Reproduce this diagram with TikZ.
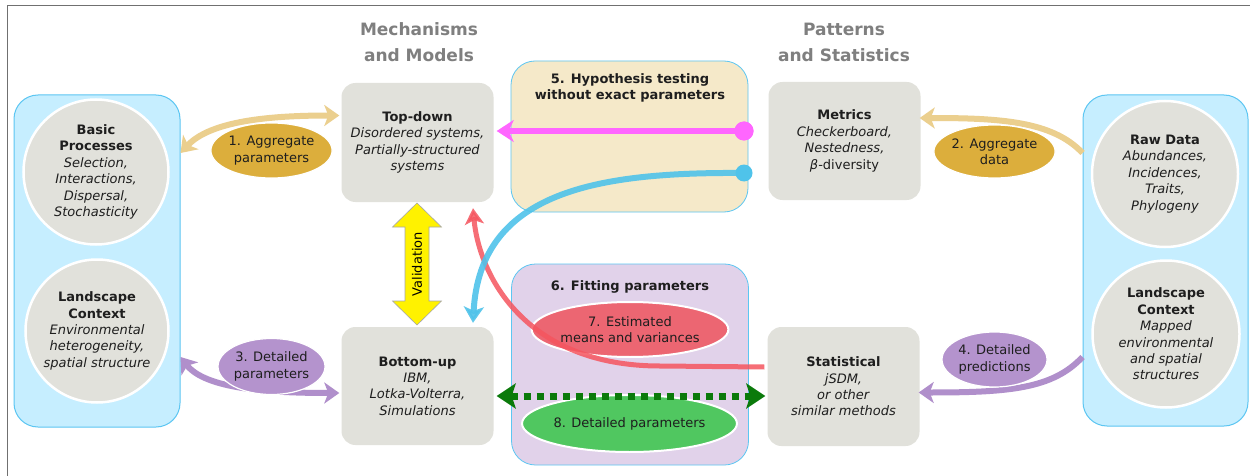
\documentclass[tikz,border=0pt]{standalone}
\usepackage{fontspec}
\setmainfont{DejaVu Sans}
\usetikzlibrary{arrows.meta,shapes.geometric,calc}
\definecolor{panelfill}{HTML}{C6EEFF}
\definecolor{panelline}{HTML}{5CC6F2}
\definecolor{circfill}{HTML}{E1E1DB}
\definecolor{boxfill}{HTML}{E1E1DB}
\definecolor{beige}{HTML}{F5E9C9}
\definecolor{lilac}{HTML}{E1D2EA}
\definecolor{goldlab}{HTML}{DCAE3C}
\definecolor{goldarr}{HTML}{EBCF8E}
\definecolor{purplab}{HTML}{B493CD}
\definecolor{purparr}{HTML}{B08FCB}
\definecolor{redell}{HTML}{EC6672}
\definecolor{redarr}{HTML}{F5555F}
\definecolor{greenell}{HTML}{50C760}
\definecolor{greenarr}{HTML}{0B7A0B}
\definecolor{bluearr}{HTML}{4FC3EA}
\definecolor{magarr}{HTML}{FF66FF}
\definecolor{headgray}{HTML}{7F7F7F}
\definecolor{framegray}{HTML}{707070}
\definecolor{txtc}{HTML}{1E1E1E}
\newcommand{\mytext}{\fontsize{13}{16.4}\selectfont}
\newcommand{\myhead}{\fontsize{17}{26}\selectfont\bfseries}
\begin{document}
\begin{tikzpicture}[x=1pt,y=-1pt,
  panel/.style={draw=panelline,fill=panelfill,line width=1pt,rounded corners=24pt,inner sep=0pt},
  circ/.style={circle,draw=white,line width=2.5pt,fill=circfill,inner sep=0pt,align=center,font=\mytext,text=txtc},
  gbox/.style={fill=boxfill,rounded corners=14pt,inner sep=0pt,align=center,font=\mytext,text=txtc,minimum width=152pt},
  bigbox/.style={draw=panelline,line width=0.8pt,rounded corners=24pt,inner sep=0pt,minimum width=237pt},
  lab/.style={ellipse,draw=white,line width=1.2pt,inner sep=0pt,align=center,font=\mytext,text=txtc},
  head/.style={align=center,font=\myhead,text=headgray},
  conn/.style={line width=6pt,line cap=butt},
  tipA/.style={},
]
\useasboundingbox (0,0) rectangle (1250,476);
\fill[white] (0,0) rectangle (1250,476);
\draw[framegray,line width=1pt] (7,476) -- (7,6) -- (1250,6);

% headings
\node[head] (h1) at (419,42) {Mechanisms\\and Models};
\node[head] (h2) at (844,42) {Patterns\\and Statistics};

% side panels
\node[panel,minimum width=166pt,minimum height=332pt] (lp) at (97,261) {};
\node[panel,minimum width=165pt,minimum height=331pt] (rp) at (1165.5,260.5) {};

\node[circ,minimum size=145pt] (bp) at (96,172) {\textbf{Basic}\\\textbf{Processes}\\\textit{Selection,}\\\textit{Interactions,}\\\textit{Dispersal,}\\\textit{Stochasticity}};
\node[circ,minimum size=143pt] (lcl) at (97,331) {\textbf{Landscape}\\\textbf{Context}\\\textit{Environmental}\\\textit{heterogeneity,}\\\textit{spatial structure}};
\node[circ,minimum size=146pt] (rd) at (1165,174) {\textbf{Raw Data}\\\textit{Abundances,}\\\textit{Incidences,}\\\textit{Traits,}\\\textit{Phylogeny}};
\node[circ,minimum size=147pt] (lcr) at (1166,334) {\textbf{Landscape}\\\textbf{Context}\\\textit{Mapped}\\\textit{environmental}\\\textit{and spatial}\\\textit{structures}};

% gray boxes
\node[gbox,minimum height=119pt] (td) at (417.5,142.5) {\textbf{Top-down}\\\textit{Disordered systems,}\\\textit{Partially-structured}\\\textit{systems}};
\node[gbox,minimum height=118pt] (mt) at (844.5,141) {\textbf{Metrics}\\\textit{Checkerboard,}\\\textit{Nestedness,}\\\textit{β}-diversity};
\node[gbox,minimum height=118pt] (bu) at (417.5,386) {\textbf{Bottom-up}\\\textit{IBM,}\\\textit{Lotka-Volterra,}\\\textit{Simulations}};
\node[gbox,minimum height=119pt] (st) at (843.5,386.5) {\textbf{Statistical}\\\textit{jSDM,}\\\textit{or other}\\\textit{similar methods}};

% big boxes
\node[bigbox,fill=beige,minimum height=151pt] (hyp) at (629.5,136.5) {};
\node[align=center,font=\mytext\bfseries,text=txtc] (hypt) at (630,88) {5. Hypothesis testing\\without exact parameters};
\node[bigbox,fill=lilac,minimum height=201pt] (fit) at (630,364.5) {};
\node[font=\mytext\bfseries,text=txtc] (fitt) at (630,287) {6. Fitting parameters};
\node[lab,fill=redell,line width=2pt,minimum width=190pt,minimum height=55pt] (e7) at (630,329.5) {7. Estimated\\means and variances};
\node[lab,fill=greenell,line width=2pt,minimum width=191pt,minimum height=57pt] (e8) at (629.5,423.5) {8. Detailed parameters};

% validation arrow
\draw[fill=yellow,draw=black!35,line width=0.6pt] (417,203) -- (441.5,227) -- (429,227) -- (429,301) -- (441.5,301) -- (417,325) -- (392.5,301) -- (405,301) -- (405,227) -- (392.5,227) -- cycle;
\node[rotate=90,font=\mytext,text=black] (va) at (417,264) {Validation};

% side connectors
\draw[conn,goldarr,{Stealth[length=15pt,width=21pt,inset=4pt]}-{Stealth[length=15pt,width=21pt,inset=4pt]}]
  ($(lp.east)+(0,-108)$) .. controls +(30,-32) and +(-70,0) .. ($(td.west)+(-2,-27)$);
\draw[conn,goldarr,-{Stealth[length=15pt,width=21pt,inset=4pt]}]
  ($(rp.west)+(0,-107.5)$) .. controls +(-30,-32) and +(80,0) .. ($(mt.east)+(-1,-23)$);
\draw[conn,purparr,{Stealth[length=15pt,width=21pt,inset=4pt]}-{Stealth[length=15pt,width=21pt,inset=4pt]}]
  ($(lp.east)+(0,96)$) .. controls +(25,32) and +(-70,0) .. ($(bu.west)+(-2,7)$);
\draw[conn,purparr,-{Stealth[length=15pt,width=21pt,inset=4pt]}]
  ($(rp.west)+(0,96.5)$) .. controls +(-30,32) and +(90,0) .. ($(st.east)+(-1,6)$);

\node[lab,fill=goldlab,minimum width=107pt,minimum height=55pt] (l1) at (271.5,150.5) {1. Aggregate\\parameters};
\node[lab,fill=goldlab,minimum width=105pt,minimum height=53pt] (l2) at (994.5,151.5) {2. Aggregate\\data};
\node[lab,fill=purplab,minimum width=107pt,minimum height=56pt] (l3) at (271.5,366.5) {3. Detailed\\parameters};
\node[lab,fill=purplab,minimum width=105pt,minimum height=55pt] (l4) at (994.5,359.5) {4. Detailed\\predictions};

% magenta
\node[circle,fill=magarr,minimum size=19pt,inner sep=0pt] (md) at (744,131) {};
\draw[conn,magarr,-{Stealth[length=17pt,width=22pt,inset=5pt]}] (md.center) -- ($(td.east)+(3,-11.5)$);
\node[circle,fill=magarr,minimum size=19pt,inner sep=0pt] at (md) {};

% red curve
\draw[line width=5pt,redarr,opacity=0.85,-{Stealth[length=16pt,width=19pt,inset=4pt]}]
  ($(st.west)+(-3,-19.5)$) -- (660,366) .. controls (525,366) and (479,275) .. ($(td.south)+(55.5,6)$);

% blue curve
\node[circle,fill=bluearr,minimum size=17pt,inner sep=0pt] (bd) at (744,173) {};
\draw[conn,bluearr,opacity=0.9,-{Stealth[length=16pt,width=20pt,inset=4pt]}]
  (bd.center) .. controls (600,172) and (480,190) .. ($(bu.north)+(55.5,-4)$);

% green dashed double arrow
\draw[line width=7pt,greenarr,dash pattern=on 7pt off 6pt,{Stealth[length=19pt,width=25pt,inset=4pt]}-{Stealth[length=19pt,width=25pt,inset=4pt]}]
  ($(bu.east)+(3,10)$) -- ($(st.west)+(-2,9.5)$);
\end{tikzpicture}
\end{document}
